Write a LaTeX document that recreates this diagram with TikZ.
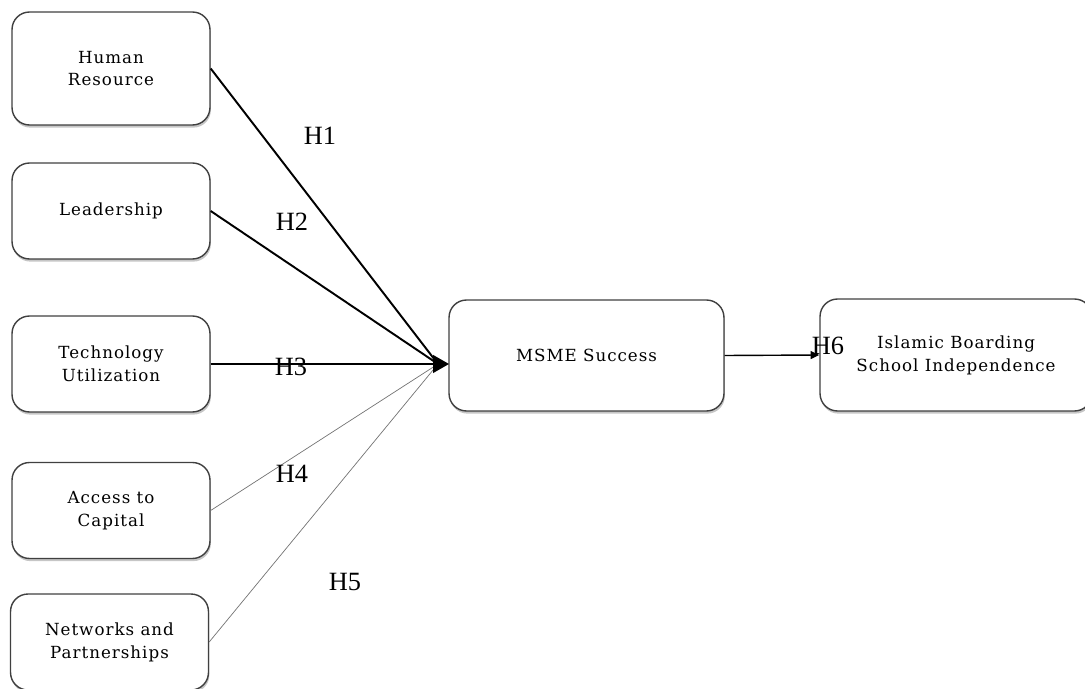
\documentclass[tikz,border=0pt]{standalone}
\usepackage{fontspec}
\setmainfont{Liberation Serif}
\newfontfamily\boxfont[LetterSpace=6]{DejaVu Serif}
\usetikzlibrary{arrows.meta,shadows}

\begin{document}
\begin{tikzpicture}[x=0.02cm,y=-0.02cm,
    factor/.style={draw=black!75, line width=0.8pt, rounded corners=0.35cm, fill=white,
        align=center, font=\boxfont\fontsize{9.5}{13}\selectfont,
        minimum width=3.96cm, minimum height=1.92cm,
        drop shadow={opacity=0.45, shadow xshift=0.5pt, shadow yshift=-1.5pt}},
    hyp/.style={font=\fontsize{15}{18}\selectfont, inner sep=0pt},
    strong/.style={black, line width=1.1pt},
    weak/.style={black!55, line width=0.4pt}]
    % Define page size
    \useasboundingbox (0,0) rectangle (1085,689);
    % Factors on the left
    \node[factor, minimum height=2.26cm] (hr) at (111,68.5) {Human\\Resource};
    \node[factor] (lead) at (111,211) {Leadership};
    \node[factor] (tech) at (111,364) {Technology\\Utilization};
    \node[factor] (cap) at (111,510.5) {Access to\\Capital};
    \node[factor] (net) at (109.5,642) {Networks and\\Partnerships};
    % Mediator and outcome
    \node[factor, minimum width=5.5cm, minimum height=2.22cm] (msme) at (586.5,355.5) {MSME Success};
    \node[factor, minimum width=5.44cm, minimum height=2.24cm] (ibs) at (956,355) {Islamic Boarding\\School Independence};
    \coordinate (tip) at (449,364);
    \coordinate (join) at (438,364);
    % Paths into MSME success
    \draw[weak] (cap.east) -- (join);
    \draw[weak] (net.east) -- (join);
    \draw[strong] (hr.east) -- (join);
    \draw[strong] (lead.east) -- (join);
    \draw[strong, -{Triangle[length=9pt,width=10pt]}] (tech.east) -- (tip);
    \draw[line width=0.8pt, -{Triangle[length=5pt,width=4.5pt]}] (msme.east) -- (ibs.west);
    % Hypothesis labels
    \node[hyp] (h1) at (320,136) {H1};
    \node[hyp] (h2) at (292,222) {H2};
    \node[hyp] (h3) at (291,367) {H3};
    \node[hyp] (h4) at (292,474) {H4};
    \node[hyp] (h5) at (345,582) {H5};
    \node[hyp] (h6) at (828,346) {H6};
\end{tikzpicture}
\end{document}
